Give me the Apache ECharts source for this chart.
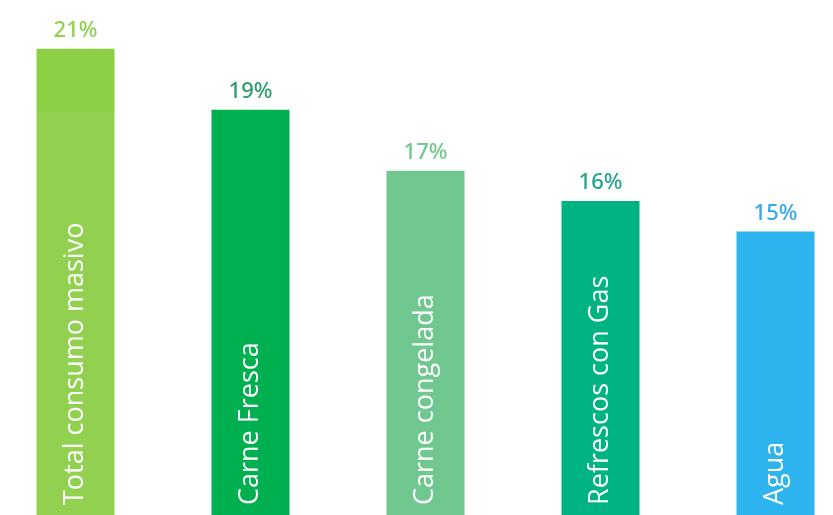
<!DOCTYPE html>
<html>
<head>
<meta charset="utf-8">
<script src="https://cdn.jsdelivr.net/npm/echarts@6/dist/echarts.min.js"></script>
<style>
  html, body { margin: 0; padding: 0; background: #ffffff; overflow: hidden; }
  /* the plot runs slightly past both edges of the window */
  #chart { width: 875px; height: 515px; margin-left: -12px; }
</style>
</head>
<body>
<div id="chart"></div>
<script>
// Share of purchases by category (%)
const categories = ['Total consumo masivo', 'Carne Fresca', 'Carne congelada', 'Refrescos con Gas', 'Agua'];
const shares = [21, 19, 17, 16, 15];
const valueLabels = ['21%', '19%', '17%', '16%', '15%'];

// Bar fills and the tint of each percentage label
const barColors = ['#92d050', '#00b050', '#70c890', '#00b383', '#2db3ee'];
const labelColors = ['#8fd14f', '#2c9e6c', '#72c78e', '#22a58a', '#33a9ec'];

const chart = echarts.init(document.getElementById('chart'), null, { renderer: 'canvas' });

// The first bar carries a slightly deeper band above the level of the second bar
const firstBarFill = new echarts.graphic.LinearGradient(0, 0, 0, 1, [
  { offset: 0, color: '#8bcf44' },
  { offset: 0.135, color: '#8bcf44' },
  { offset: 0.135, color: '#92d050' },
  { offset: 1, color: '#92d050' }
]);

chart.setOption({
  animation: false,
  backgroundColor: '#ffffff',
  grid: { left: 0, right: 0, top: 0, bottom: 0, containLabel: false },
  xAxis: {
    type: 'category',
    data: categories,
    show: false
  },
  yAxis: {
    type: 'value',
    min: 5.7,
    max: 22.6,
    show: false,
    splitLine: { show: false }
  },
  series: [
    {
      type: 'bar',
      barWidth: 78,
      data: shares.map((v, i) => ({
        value: v,
        itemStyle: { color: i === 0 ? firstBarFill : barColors[i] }
      })),
      label: {
        show: true,
        position: 'insideBottom',
        rotate: 90,
        align: 'left',
        verticalAlign: 'middle',
        distance: 10,
        color: '#ffffff',
        fontFamily: "'Open Sans', sans-serif",
        fontSize: 27,
        formatter: p => categories[p.dataIndex]
      }
    },
    {
      // Percentage labels sitting above each bar
      type: 'bar',
      barWidth: 78,
      barGap: '-100%',
      silent: true,
      itemStyle: { color: 'transparent' },
      data: shares.map((v, i) => ({
        value: v,
        label: { color: labelColors[i] }
      })),
      label: {
        show: true,
        position: 'top',
        distance: 7,
        fontFamily: "'Noto Sans', sans-serif",
        fontWeight: 500,
        fontSize: 22,
        formatter: p => valueLabels[p.dataIndex]
      }
    }
  ]
});
</script>
</body>
</html>
